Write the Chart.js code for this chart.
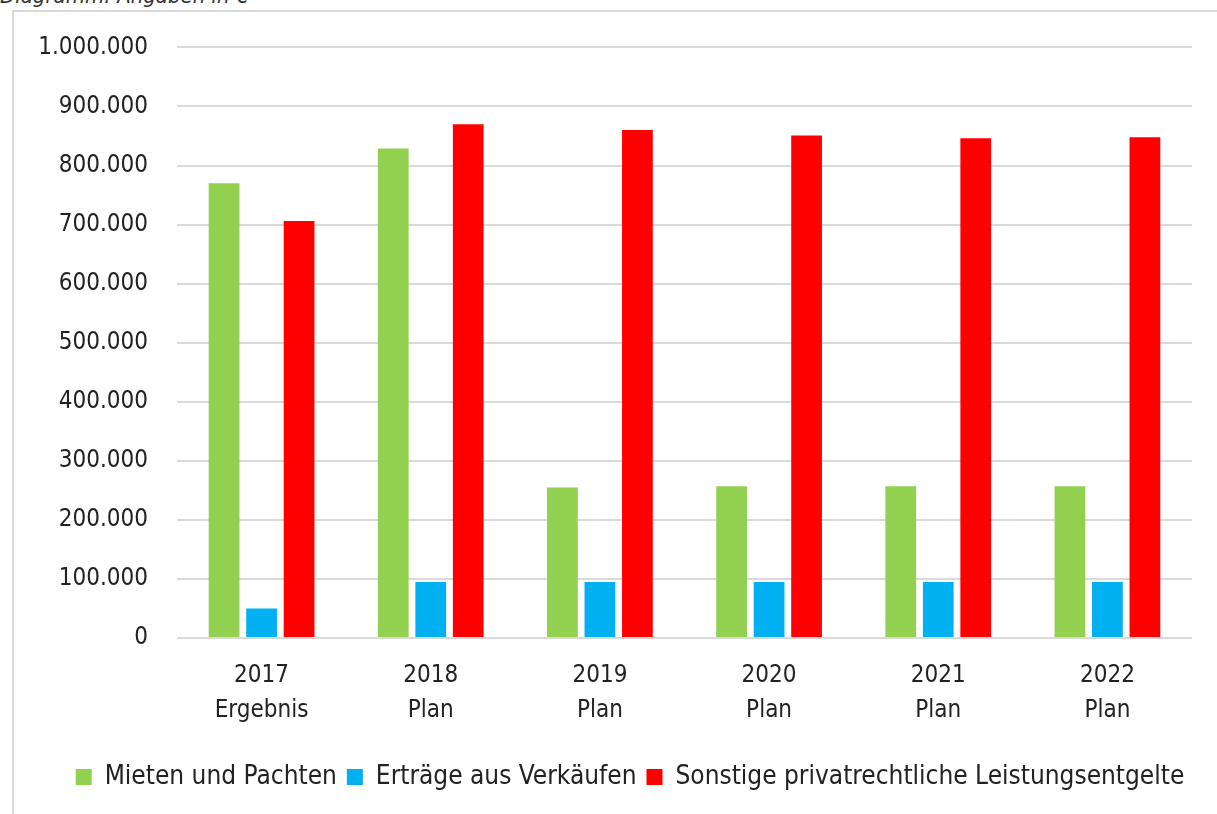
<!DOCTYPE html>
<html lang="de">
<head>
<meta charset="utf-8">
<title>Diagramm: Angaben in €</title>
<script src="https://cdn.jsdelivr.net/npm/chart.js@4.4.1/dist/chart.umd.min.js"></script>
<style>
  html, body { margin: 0; padding: 0; background: #fff; overflow: hidden; }
  body { width: 1217px; height: 814px; position: relative; }
  .caption {
    position: absolute; left: 0; top: -15px;
    font: italic 22px/22px "DejaVu Sans Condensed", "DejaVu Sans", sans-serif;
    color: #333; white-space: nowrap;
  }
  .frame {
    position: absolute; left: 12px; top: 10px; width: 1300px; height: 900px;
    border-left: 2px solid #d9d9d9; border-top: 2px solid #d9d9d9;
  }
  /* Canvas beginnt knapp unter dem Rahmen, damit die Plotfläche bei y=47 liegt */
  #wrap { position: absolute; left: 14px; top: 4px; width: 1232px; height: 810px; }
</style>
</head>
<body>
<div class="caption">Diagramm: Angaben in €</div>
<div class="frame"></div>
<div id="wrap"><canvas id="chart"></canvas></div>
<script>
// Kategorien (Jahr + Art)
const jahre  = ['2017', '2018', '2019', '2020', '2021', '2022'];
const arten  = ['Ergebnis', 'Plan', 'Plan', 'Plan', 'Plan', 'Plan'];

// Werte in €
const mietenUndPachten  = [770000, 829000, 255000, 257000, 257000, 257000];
const ertraegeVerkaeufe = [50000, 95000, 95000, 95000, 95000, 95000];
const sonstigeEntgelte  = [706000, 870000, 860000, 851000, 846000, 848000];

// Achse
const yMin = 0, yMax = 1000000, yStep = 100000;

const FONT = '"DejaVu Sans Condensed", "DejaVu Sans", sans-serif';
const TEXT = '#222';

// Tausenderpunkt wie im Original
function fmt(v) {
  return String(Math.round(v)).replace(/\B(?=(\d{3})+(?!\d))/g, '.');
}

// Legende etwas nach rechts, wie im Original (nicht über der Plotfläche zentriert)
const legendShift = {
  id: 'legendShift',
  afterLayout(chart) {
    const lg = chart.legend;
    if (!lg) return;
    lg.left += 27;
    lg.right += 27;
  }
};

const ctx = document.getElementById('chart').getContext('2d');
new Chart(ctx, {
  type: 'bar',
  data: {
    labels: jahre.map((j, i) => [j, arten[i]]),
    datasets: [
      { label: 'Mieten und Pachten', data: mietenUndPachten, backgroundColor: '#92D050' },
      { label: 'Erträge aus Verkäufen', data: ertraegeVerkaeufe, backgroundColor: '#00B0F0' },
      { label: 'Sonstige privatrechtliche Leistungsentgelte', data: sonstigeEntgelte, backgroundColor: '#FF0000' }
    ]
  },
  options: {
    responsive: true,
    maintainAspectRatio: false,
    animation: false,
    devicePixelRatio: 1,
    categoryPercentage: 0.665,
    barPercentage: 0.82,
    layout: { padding: { left: 0, right: 54, top: 0, bottom: 14 } },
    plugins: {
      legend: {
        position: 'bottom',
        labels: {
          boxWidth: 16, boxHeight: 16, padding: 10,
          color: TEXT,
          font: { family: FONT, size: 26 }
        }
      },
      tooltip: { enabled: false }
    },
    scales: {
      x: {
        grid: { display: false, drawTicks: false },
        border: { display: false },
        ticks: {
          color: TEXT, padding: 20, maxRotation: 0, autoSkip: false,
          font: { family: FONT, size: 24, lineHeight: 35 / 24 }
        },
        afterFit: s => { s.height = 116; }
      },
      y: {
        min: yMin, max: yMax,
        grid: { color: '#d9d9d9', lineWidth: 2, drawTicks: false },
        border: { display: false },
        ticks: {
          stepSize: yStep, color: TEXT, padding: 29,
          font: { family: FONT, size: 24 },
          callback: v => fmt(v)
        },
        afterFit: s => { s.width = 163; }
      }
    }
  },
  plugins: [legendShift]
});
</script>
</body>
</html>
